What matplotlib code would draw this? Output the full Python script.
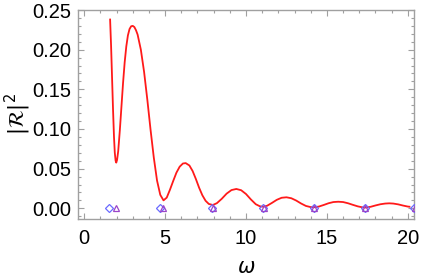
import matplotlib
matplotlib.use("Agg")
import matplotlib.pyplot as plt
from matplotlib.ticker import MultipleLocator

# curve |R|^2 vs omega
omega = [1.60, 1.66, 1.72, 1.78, 1.84, 1.89, 1.94, 1.98, 2.03, 2.10, 2.20, 2.30, 2.40,
         2.50, 2.60, 2.70, 2.80, 2.90, 3.00, 3.10, 3.20, 3.30, 3.50, 3.70, 3.90,
         4.10, 4.30, 4.50, 4.70, 4.90, 5.10, 5.30, 5.50, 5.70, 5.90, 6.10, 6.27,
         6.50, 6.70, 6.90, 7.10, 7.30, 7.50, 7.70, 7.95, 8.20, 8.50, 8.80, 9.10,
         9.40, 9.70, 10.0, 10.3, 10.6, 10.85, 11.07, 11.3, 11.6, 11.9, 12.2, 12.5,
         12.8, 13.1, 13.4, 13.7, 14.0, 14.2, 14.5, 14.8, 15.1, 15.4, 15.7, 16.0,
         16.3, 16.6, 16.9, 17.2, 17.4, 17.7, 18.0, 18.3, 18.6, 18.85, 19.1, 19.4,
         19.7, 20.0, 20.1]
R2 = [0.238, 0.205, 0.165, 0.125, 0.090, 0.070, 0.060, 0.0576, 0.061, 0.072, 0.098, 0.128, 0.158,
      0.184, 0.204, 0.218, 0.226, 0.2295, 0.2300, 0.2285, 0.2245, 0.219, 0.200, 0.172, 0.137,
      0.099, 0.064, 0.035, 0.017, 0.0100, 0.0135, 0.0235, 0.0345, 0.045, 0.0525, 0.0565, 0.0570,
      0.0540, 0.0470, 0.0370, 0.0260, 0.0165, 0.0095, 0.0055, 0.0042, 0.0065, 0.0120, 0.0185, 0.0230,
      0.0244, 0.0228, 0.0180, 0.0112, 0.0052, 0.0026, 0.0020, 0.0032, 0.0068, 0.0107, 0.0133, 0.0139,
      0.0127, 0.0098, 0.0061, 0.0030, 0.0015, 0.0013, 0.0022, 0.0042, 0.0064, 0.0079, 0.0083, 0.0079,
      0.0064, 0.0044, 0.0025, 0.0012, 0.0010, 0.0019, 0.0036, 0.0051, 0.0060, 0.0063, 0.0060, 0.0050,
      0.0035, 0.0022, 0.0020]

# marker positions (zeros of R)
diamond_x = [1.56, 4.69, 7.90, 11.05, 14.18, 17.33, 20.40]
diamond_y = [0, 0, 0, 0, 0, 0, 0]
triangle_x = [1.96, 4.88, 7.95, 11.08, 14.21, 17.36, 20.42]
triangle_y = [0, 0, 0, 0, 0, 0, 0]

plt.rcParams['font.family'] = ['Liberation Sans', 'DejaVu Sans']
plt.rcParams['mathtext.fontset'] = 'dejavusans'

fig = plt.figure(figsize=(4.22, 2.78), dpi=100)
ax = fig.add_axes([0.185, 0.213, 0.796, 0.751])

ax.plot(omega, R2, color='#ff1a1a', lw=1.3, zorder=3)
ax.plot(diamond_x, diamond_y, linestyle='none', marker='D', ms=4.2, mfc='none',
        mec='#6a6aff', mew=0.9, zorder=4, clip_on=True)
ax.plot(triangle_x, triangle_y, linestyle='none', marker='^', ms=5, mfc='none',
        mec='#9b45c8', mew=0.9, zorder=4, clip_on=True)

ax.set_xlim(-0.38, 20.38)
ax.set_ylim(-0.0132, 0.25)
ax.xaxis.set_major_locator(MultipleLocator(5))
ax.xaxis.set_minor_locator(MultipleLocator(1))
ax.yaxis.set_major_locator(MultipleLocator(0.05))
ax.yaxis.set_minor_locator(MultipleLocator(0.01))
ax.yaxis.set_major_formatter(matplotlib.ticker.FormatStrFormatter('%.2f'))

fc = '#a0a0a0'
for s in ax.spines.values():
    s.set_color(fc)
    s.set_linewidth(1.0)
ax.tick_params(which='both', direction='in', top=True, right=True, color=fc,
               labelsize=14.5, labelcolor='black', width=0.8)
ax.tick_params(which='major', length=4.5)
ax.tick_params(which='minor', length=2.5)
ax.tick_params(axis='x', which='major', pad=7)
ax.tick_params(axis='y', which='major', pad=5)

ax.set_xlabel(r'$\omega$', fontsize=15)
ax.set_ylabel(r'$|\mathcal{R}|^2$', fontsize=15)
ax.xaxis.set_label_coords(0.5, -0.235)
ax.yaxis.set_label_coords(-0.18, 0.5)
ax.xaxis.label.set_va('center')
ax.yaxis.label.set_va('center')

fig.savefig('out.png', dpi=100)
